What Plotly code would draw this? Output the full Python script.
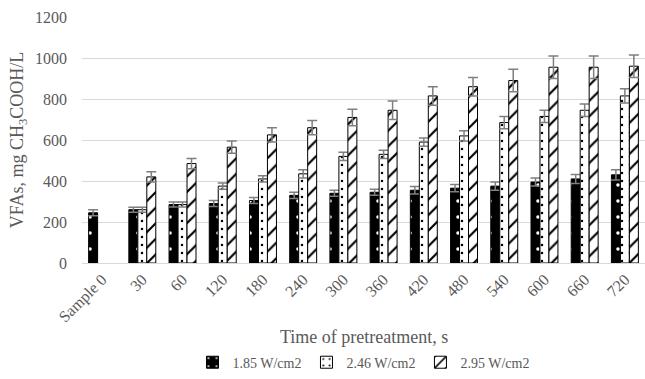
import plotly.graph_objects as go

categories = ["Sample 0", "30", "60", "120", "180", "240", "300", "360", "420",
              "480", "540", "600", "660", "720"]
series_names = ["1.85 W/cm2", "2.46 W/cm2", "2.95 W/cm2"]
vals_185 = [245, 260, 285, 290, 305, 330, 340, 345, 355, 365, 375, 395, 410, 430]
vals_246 = [None, 260, 285, 375, 410, 435, 520, 530, 590, 620, 685, 715, 745, 815]
vals_295 = [None, 420, 485, 565, 625, 660, 710, 745, 815, 860, 890, 955, 955, 960]
err_185 = [15, 12, 12, 15, 15, 15, 15, 15, 18, 18, 20, 20, 22, 25]
err_246 = [0, 12, 12, 15, 15, 20, 20, 20, 20, 25, 30, 30, 30, 35]
err_295 = [0, 25, 25, 30, 35, 35, 40, 45, 45, 45, 55, 55, 55, 55]

grey = "#595959"
ff = "Liberation Serif, DejaVu Serif, serif"

styles = [
    dict(bg="black", fg="white", shape=".", size=16, solidity=0.04),
    dict(bg="white", fg="black", shape=".", size=8, solidity=0.08),
    dict(bg="white", fg="black", shape="/", size=11, solidity=0.2),
]

fig = go.Figure()
for name, vals, errs, st in zip(series_names, [vals_185, vals_246, vals_295],
                                 [err_185, err_246, err_295], styles):
    fig.add_trace(go.Bar(
        x=categories, y=vals, name=name,
        marker=dict(color=st["bg"], line=dict(color="black", width=1),
                    pattern=dict(shape=st["shape"], fgcolor=st["fg"], bgcolor=st["bg"],
                                 size=st["size"], solidity=st["solidity"], fillmode="replace")),
        error_y=dict(type="data", array=errs, visible=True, color="#7f7f7f",
                     thickness=1.5, width=5),
    ))

fig.update_layout(
    width=645, height=379,
    margin=dict(l=82, r=0, t=17, b=114),
    paper_bgcolor="white", plot_bgcolor="white",
    barmode="group", bargap=0.33, bargroupgap=0.0,
    font=dict(family=ff, color=grey, size=15),
    showlegend=True,
    legend=dict(orientation="h", x=0.5, xanchor="center", y=-0.405, yanchor="middle",
                font=dict(family=ff, size=14, color=grey), itemwidth=30, tracegroupgap=0),
    xaxis=dict(type="category", tickangle=-45, showgrid=False, showline=True,
               linecolor="#d9d9d9", linewidth=1, ticks="",
               tickfont=dict(family=ff, size=16, color=grey)),
    yaxis=dict(range=[0, 1200], dtick=200, showgrid=True, gridcolor="#d9d9d9",
               gridwidth=1, zeroline=False, showline=False, ticks="",
               ticklabelstandoff=14, tickfont=dict(family=ff, size=16, color=grey),
               title=dict(text="VFAs, mg CH<sub>3</sub>COOH/L",
                          font=dict(family=ff, size=18, color=grey), standoff=6)),
)
fig.add_annotation(text="Time of pretreatment, s", xref="paper", yref="paper",
                   x=0.5, y=-0.30, xanchor="center", yanchor="middle", showarrow=False,
                   font=dict(family=ff, size=18, color=grey))

fig.write_html("out.html")
